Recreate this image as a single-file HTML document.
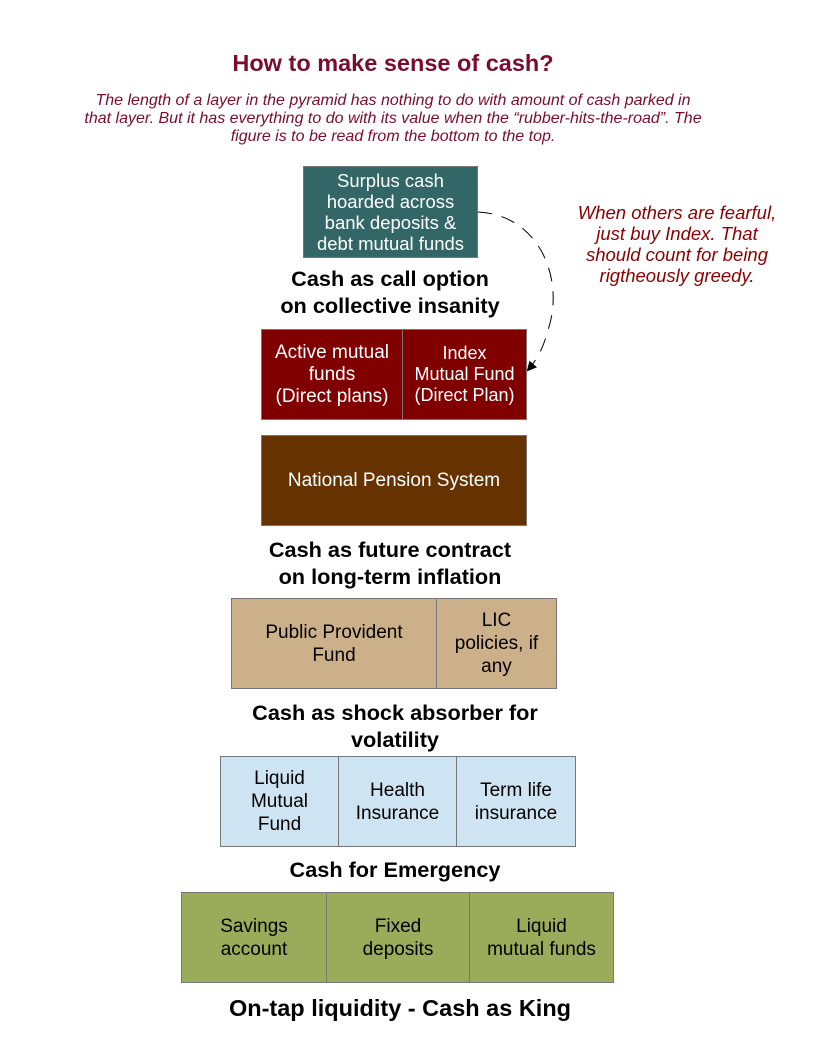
<!DOCTYPE html>
<html><head><style>
body{margin:0;width:832px;height:1058px;background:#fff;font-family:"Liberation Sans",sans-serif;position:relative;overflow:hidden}
.a{position:absolute}
.t{position:absolute;text-align:center;white-space:nowrap}
.b{position:absolute;box-sizing:border-box;border:1px solid #777;display:flex;align-items:center;justify-content:center;text-align:center;font-size:19px;line-height:23px;white-space:nowrap}
.h{position:absolute;font-weight:bold;font-size:21.7px;line-height:27px;text-align:center;color:#000;white-space:nowrap}
</style></head><body>
<div class="t" style="left:0;width:786px;top:50px;font-size:23.5px;font-weight:bold;color:#7b0c2e">How to make sense of cash?</div>
<div class="t" style="left:0;width:786px;top:92px;font-size:16px;line-height:18px;font-style:italic;color:#7b0c2e">The length of a layer in the pyramid has nothing to do with amount of cash parked in<br>that layer. But it has everything to do with its value when the “rubber-hits-the-road”. The<br>figure is to be read from the bottom to the top.</div>

<div class="b" style="left:303px;top:166px;width:175px;height:92px;background:#336666;color:#fff;font-size:18.5px;line-height:21px">Surplus cash<br>hoarded across<br>bank deposits &amp;<br>debt mutual funds</div>
<div class="h" style="left:190px;width:400px;top:265px">Cash as call option<br>on collective insanity</div>

<div class="t" style="left:560px;width:234px;top:202px;font-size:18.5px;line-height:21px;font-style:italic;color:#8b0000">When others are fearful,<br>just buy Index. That<br>should count for being<br>rigtheously greedy.</div>

<svg class="a" style="left:0;top:0" width="832" height="1058">
<defs><marker id="m" markerWidth="10" markerHeight="10" refX="8" refY="5" orient="auto"><path d="M0,0 L10,5 L0,10 z" fill="#000"/></marker></defs>
<path d="M478,212 C540,215 565,280 548,330 C543,350 535,362 528,370" fill="none" stroke="#000" stroke-width="1" stroke-dasharray="14,10" marker-end="url(#m)"/>
</svg>

<div class="b" style="left:261px;top:329px;width:142px;height:91px;background:#800000;color:#fff;line-height:22px">Active mutual<br>funds<br>(Direct plans)</div>
<div class="b" style="left:402px;top:329px;width:125px;height:91px;background:#800000;color:#fff;font-size:18px;line-height:21px">Index<br>Mutual Fund<br>(Direct Plan)</div>

<div class="b" style="left:261px;top:435px;width:266px;height:91px;background:#663300;color:#fff;font-size:19px">National Pension System</div>
<div class="h" style="left:190px;width:400px;top:536px">Cash as future contract<br>on long-term inflation</div>

<div class="b" style="left:231px;top:598px;width:206px;height:91px;background:#ccb08a;color:#000">Public Provident<br>Fund</div>
<div class="b" style="left:436px;top:598px;width:121px;height:91px;background:#ccb08a;color:#000">LIC<br>policies, if<br>any</div>
<div class="h" style="left:180px;width:430px;top:699px">Cash as shock absorber for<br>volatility</div>

<div class="b" style="left:220px;top:756px;width:119px;height:91px;background:#cfe4f2;color:#000">Liquid<br>Mutual<br>Fund</div>
<div class="b" style="left:338px;top:756px;width:119px;height:91px;background:#cfe4f2;color:#000">Health<br>Insurance</div>
<div class="b" style="left:456px;top:756px;width:120px;height:91px;background:#cfe4f2;color:#000">Term life<br>insurance</div>
<div class="h" style="left:180px;width:430px;top:856px">Cash for Emergency</div>

<div class="b" style="left:181px;top:892px;width:146px;height:91px;background:#9aab5a;color:#000">Savings<br>account</div>
<div class="b" style="left:326px;top:892px;width:144px;height:91px;background:#9aab5a;color:#000">Fixed<br>deposits</div>
<div class="b" style="left:469px;top:892px;width:145px;height:91px;background:#9aab5a;color:#000">Liquid<br>mutual funds</div>
<div class="h" style="left:160px;width:480px;top:995px;font-size:23.5px">On-tap liquidity - Cash as King</div>
</body></html>
